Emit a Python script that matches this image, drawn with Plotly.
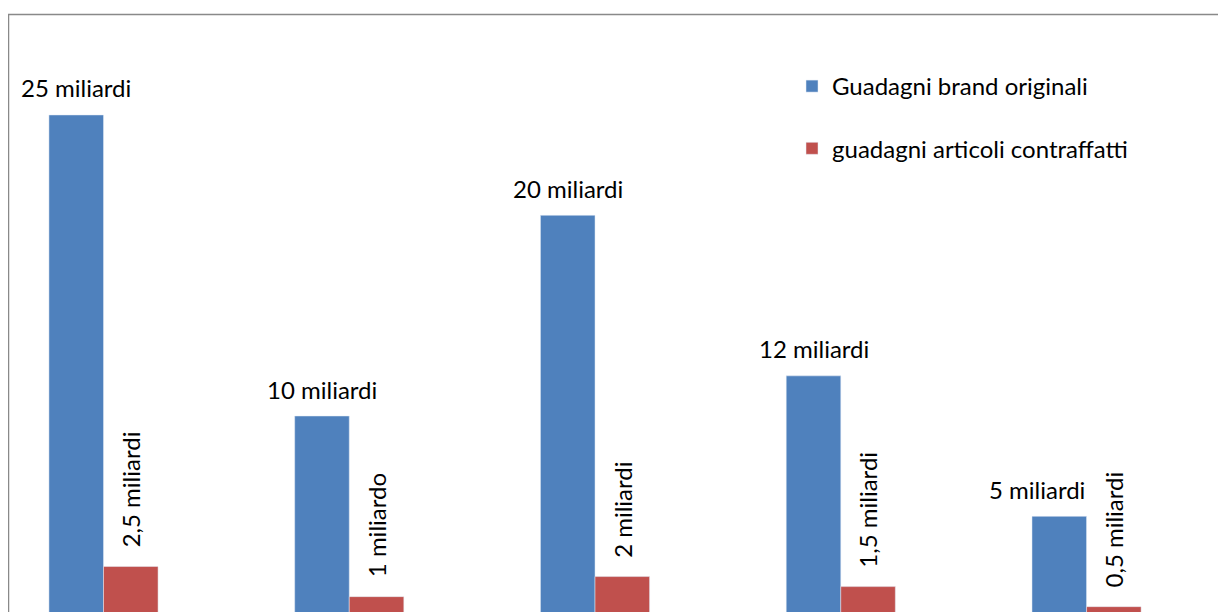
import plotly.graph_objects as go

categories = ["Categoria 1", "Categoria 2", "Categoria 3", "Categoria 4", "Categoria 5"]
originali = [25, 10, 20, 12, 5]
contraffatti = [2.5, 1, 2, 1.5, 0.5]
label_originali = ["25 miliardi", "10 miliardi", "20 miliardi", "12 miliardi", "5 miliardi"]
label_contraffatti = ["2,5 miliardi", "1 miliardo", "2 miliardi", "1,5 miliardi", "0,5 miliardi"]
series_names = ["Guadagni brand originali", "guadagni articoli contraffatti"]

BLUE = "#4F81BD"
RED = "#C0504D"
FONT = "Lato"
FS = 24

xs = list(range(len(categories)))
fig = go.Figure()
fig.add_trace(go.Bar(x=xs, y=originali, name=series_names[0], marker_color=BLUE,
                     legendgroup="a", hoverinfo="skip"))
fig.add_trace(go.Bar(x=xs, y=contraffatti, name=series_names[1], marker_color=RED,
                     legendgroup="b", hoverinfo="skip"))

off = 0.111
annotations = []
last = len(categories) - 1
for i, (v, t) in enumerate(zip(originali, label_originali)):
    if i == last:
        # label pushed left so it does not collide with the neighbouring vertical label
        ax, anchor = i, "right"
    else:
        ax, anchor = i - off, "center"
    annotations.append(dict(x=ax, y=v, xref="x", yref="y", text=t, showarrow=False,
                            yanchor="middle", xanchor=anchor, yshift=27,
                            font=dict(family=FONT, size=FS, color="#000000")))
for i, (v, t) in enumerate(zip(contraffatti, label_contraffatti)):
    annotations.append(dict(x=i + off, y=v, xref="x", yref="y", text=t, showarrow=False,
                            yanchor="bottom", xanchor="center", yshift=17, textangle=-90,
                            font=dict(family=FONT, size=FS, color="#000000")))

fig.update_layout(
    width=1226, height=612,
    margin=dict(l=0, r=0, t=0, b=0),
    paper_bgcolor="white", plot_bgcolor="white",
    barmode="group", bargap=0.556, bargroupgap=0,
    xaxis=dict(range=[-0.3886, 4.600], visible=False),
    yaxis=dict(range=[-0.164, 30.33], visible=False),
    showlegend=True,
    legend=dict(x=0.6395, y=0.9085, xanchor="left", yanchor="top",
                font=dict(family=FONT, size=FS, color="#000000"),
                tracegroupgap=28, bgcolor="rgba(0,0,0,0)"),
    annotations=annotations,
    shapes=[dict(type="rect", xref="paper", yref="paper",
                 x0=0.5 / 1226, x1=1.05, y0=-0.05, y1=1 - 6.5 / 612,
                 line=dict(color="#898989", width=1.5), fillcolor="rgba(0,0,0,0)",
                 layer="below")],
)

fig.write_html("out.html")
